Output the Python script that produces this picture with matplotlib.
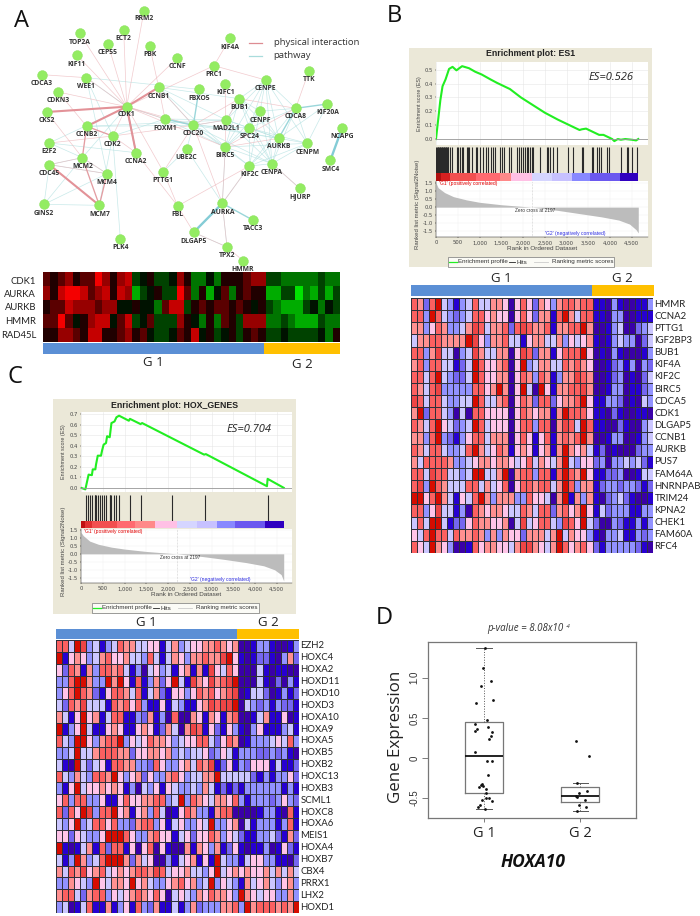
import numpy as np
import matplotlib
matplotlib.use("Agg")
import matplotlib.pyplot as plt
from matplotlib.colors import ListedColormap, LinearSegmentedColormap
from matplotlib.patches import Rectangle

W, H = 700, 916
SANS = "Lato"

# ---------- Panel A: network ----------
node_names = ["RRM2","TOP2A","ECT2","CEP55","PBK","KIF11","CCNF","KIF4A","PRC1","TTK","CDCA3","WEE1","KIFC1","CENPE",
              "CCNB1","FBXO5","CDKN3","BUB1","KIF20A","CDCA8","CDK1","CKS2","CENPF","NCAPG","FOXM1","MAD2L1","SPC24",
              "CDC20","CCNB2","CDK2","AURKB","CENPM","E2F2","UBE2C","BIRC5","CCNA2","MCM2","SMC4","CDC45","CENPA",
              "KIF2C","MCM4","PTTG1","HJURP","GINS2","MCM7","FBL","AURKA","TACC3","DLGAP5","PLK4","TPX2","HMMR"]
node_x = [432,239,371,324,449,230,532,690,642,927,126,259,676,797,476,597,175,718,982,887,380,140,780,1026,495,679,748,
          580,260,338,836,922,148,560,676,408,247,991,148,816,748,321,490,899,132,298,533,667,758,581,361,681,729]
node_y = [32,100,89,132,138,165,174,115,197,212,224,233,251,240,262,268,276,296,312,325,320,336,334,385,357,360,384,
          376,379,408,415,430,429,447,441,458,473,481,494,491,498,521,515,565,613,616,618,610,660,697,717,741,782]
label_dy = [25,26,26,27,27,27,26,27,27,27,26,26,26,26,26,26,27,26,26,26,23,27,27,26,27,24,26,
            25,25,26,25,26,26,26,26,26,25,26,26,26,26,25,25,26,26,26,26,26,26,27,26,26,26]

phys_thick = [("CDK1","CKS2"),("CDK1","CCNB1"),("CDK1","CCNB2"),("CDK1","CCNA2"),("CDC45","MCM7")]
phys_mid = [("CCNB2","CDK2"),("MCM2","MCM7"),("MCM4","MCM7"),("CCNB2","MCM2")]
phys_thin = [("CDK1","TOP2A"),("CDK1","ECT2"),("CDK1","RRM2"),("CDK1","CEP55"),("CDK1","KIF11"),("CDK1","CCNF"),("CDK1","WEE1"),
             ("CDK1","CDKN3"),("CDK1","CDK2"),("CDK1","PTTG1"),("CDK1","FOXM1"),("CDK1","PRC1"),("CDK1","CDC20"),("CDK1","BIRC5"),
             ("CDCA3","WEE1"),("PBK","CCNB1"),("KIF4A","PRC1"),("PRC1","CENPE"),("TTK","CDCA8"),("CENPA","HJURP"),("CDKN3","CCNB2"),
             ("CKS2","MCM2"),("CCNA2","FBL"),("PTTG1","FBL"),("FBL","DLGAP5"),("FBL","KIF2C"),("CDC20","AURKA"),("BIRC5","AURKA"),
             ("AURKA","TPX2"),("DLGAP5","TPX2"),("TPX2","HMMR"),("KIF2C","AURKA"),("CDC45","MCM2"),("CDC45","MCM4"),("MCM2","MCM4"),
             ("CCNB1","CDC20"),("CCNB1","FOXM1"),("CDC20","BUB1"),("CDC20","MAD2L1"),("MAD2L1","BUB1"),("KIFC1","BIRC5"),("CDC20","PTTG1"),
             ("CDK2","CCNA2"),("CDK2","E2F2"),("CDC20","CDK2"),("BIRC5","AURKB"),("BUB1","CDCA8"),("BIRC5","CDCA8")]
path_thick = [("DLGAP5","AURKA"),("NCAPG","SMC4")]
path_mid = [("CDK1","CCNA2"),("AURKA","TACC3"),("FBXO5","CDC20"),("CDCA8","KIF20A"),("CDC20","FOXM1"),("CDCA8","AURKB")]
path_thin = [("WEE1","CDK1"),("WEE1","FBXO5"),("WEE1","CDK2"),("WEE1","MCM4"),("CDK1","FOXM1"),("CDK1","MCM2"),("CDK1","E2F2"),("CCNB1","MAD2L1"),
             ("CCNB1","BUB1"),("CCNB1","BIRC5"),("CCNB1","CDC20"),("CCNB2","CDC20"),("CCNB2","MAD2L1"),("CDK2","FOXM1"),("CDK2","MCM7"),("CDK2","PLK4"),
             ("E2F2","CCNA2"),("E2F2","MCM2"),("CDC45","GINS2"),("CDC45","MCM4"),("CDC45","MCM2"),("GINS2","MCM7"),("GINS2","MCM4"),("GINS2","MCM2"),
             ("CDC45","MCM7"),("MCM4","MCM2"),("UBE2C","CDC20"),("UBE2C","AURKA"),("UBE2C","PTTG1"),("BIRC5","KIF2C"),("BIRC5","CENPA"),("BIRC5","CENPE"),
             ("BIRC5","CENPF"),("BIRC5","CENPM"),("BIRC5","BUB1"),("BIRC5","SPC24"),("BIRC5","AURKA"),("CENPE","BUB1"),("CENPE","CENPF"),("CENPE","CDCA8"),
             ("CENPE","AURKB"),("CENPE","SPC24"),("CENPE","MAD2L1"),("CENPE","CENPM"),("CENPE","CENPA"),("BUB1","CENPF"),("BUB1","MAD2L1"),("BUB1","SPC24"),
             ("BUB1","AURKB"),("BUB1","CENPA"),("CENPF","CDCA8"),("CENPF","AURKB"),("CENPF","KIF2C"),("CENPF","CENPA"),("CENPF","SPC24"),("CDCA8","CENPM"),
             ("CDCA8","CENPA"),("CDCA8","KIF2C"),("CDCA8","SPC24"),("KIF20A","AURKB"),("KIF20A","CENPM"),("AURKB","CENPM"),("AURKB","CENPA"),("AURKB","KIF2C"),
             ("AURKB","SPC24"),("AURKB","MAD2L1"),("AURKB","CDC20"),("CENPM","CENPA"),("CENPM","KIF2C"),("CENPM","SPC24"),("CENPA","KIF2C"),("CENPA","SPC24"),
             ("CENPA","MAD2L1"),("CENPA","CDC20"),("CENPA","HJURP"),("KIF2C","SPC24"),("KIF2C","CDC20"),("SPC24","CDC20"),("SPC24","MAD2L1"),("MAD2L1","CDC20"),
             ("FOXM1","BIRC5"),("FOXM1","AURKB"),("FOXM1","CDC20"),("FOXM1","MAD2L1"),("CDC20","BIRC5"),("AURKA","TPX2"),("DLGAP5","TPX2"),("AURKA","KIF2C")]
legend_a = ["physical interaction", "pathway"]

# ---------- Panel A: heat map ----------
a_genes = ["CDK1","AURKA","AURKB","HMMR","RAD45L"]
a_rows = ["656756697578"+"345334752242555677"+"3322222322",
          "758998678587"+"134533962514625655"+"1133021313",
          "566877767744"+"544268835656656545"+"3211134243",
          "669645788468"+"346333754252653777"+"2232111322",
          "557765885567"+"564334658453453565"+"3343333425"]

# ---------- Panel B: GSEA ES1 ----------
b_title = "Enrichment plot: ES1"
b_es_rank = [0,50,100,150,220,300,380,470,600,760,900,1050,1250,1400,1700,1950,2200,2500,2800,3100,3300,3350,3450,3750,3850,4050,4100,4180,4250,4350,4500,4600,4650]
b_es_val = [0,.14,.28,.38,.43,.505,.52,.495,.525,.51,.485,.465,.43,.405,.36,.30,.25,.19,.14,.095,.065,.07,.075,.03,.03,0,-.015,0,-.005,0,-.005,-.01,0]
b_hits = [10,25,40,55,70,85,100,115,130,145,160,175,190,205,220,235,250,265,280,322,360,491,514,552,590,629,705,744,767,820,920,951,1012,1074,1150,1204,1258,
          1319,1357,1472,1511,1564,1687,1718,1871,1917,1948,1994,2048,2086,2124,2163,2201,2239,2393,2546,2584,2623,2699,2776,3044,3160,3351,3390,3581,3620,
          3696,3758,3788,3926,3988,4256,4387,4425,4502,4632]
b_bar_edges = [0,115,320,930,1470,1715,2200,2660,3120,3540,3770,4230,4650]
b_bar_colors = ["#b01010","#d62020","#f25050","#ff6a70","#ff8989","#ffc0e5","#d5d5ff","#c7c1ff","#8888ff","#6b58ef","#6b58ef","#3000c0"]
b_rank_rank = [0,50,200,400,700,1000,1500,2197,2800,3300,3800,4200,4450,4600,4650]
b_rank_val = [1.5,1.2,.9,.65,.45,.3,.15,0,-.2,-.4,-.6,-.8,-1.05,-1.4,-1.6]
b_es_text = "ES=0.526"

b_genes = ["HMMR","CCNA2","PTTG1","IGF2BP3","BUB1","KIF4A","KIF2C","BIRC5","CDCA5","CDK1","DLGAP5","CCNB1","AURKB","PUS7","FAM64A","HNRNPAB","TRIM24","KPNA2","CHEK1","FAM60A","RFC4"]
b_rows = ["7627943134744665"+"0"+"5752653677677"+"1103100113",
          "7739743234775655"+"0"+"5752661796477"+"1103300111",
          "6635763346874667"+"2"+"7876671667796"+"0013400234",
          "4667766669853667"+"4"+"4156644635456"+"1013433024",
          "7736844034864466"+"0"+"5872661577795"+"0103100013",
          "6737744124975567"+"0"+"5934664476765"+"0012313032",
          "7747943224975566"+"0"+"5763761366876"+"0012301024",
          "7647833333775696"+"0"+"5940951667786"+"0013301123",
          "8747743344974467"+"0"+"5762772566795"+"1133201043",
          "6927743040775555"+"0"+"5765661697775"+"1102100110",
          "7647954234974555"+"0"+"5773770687497"+"1100210034",
          "6637932135774666"+"0"+"5751571676796"+"0013300134",
          "7647743347964576"+"1"+"5651561696564"+"1201000233",
          "6477776334566566"+"5"+"4574654694355"+"2303343421",
          "7748774434994469"+"0"+"6773771797695"+"1122300144",
          "7839764447746457"+"0"+"5776774697366"+"1233233212",
          "9957964154796366"+"6"+"3375540691636"+"1023421001",
          "7735844130765665"+"4"+"4764772675695"+"1423331133",
          "4749941225766556"+"0"+"4845774387594"+"2003211313",
          "5479774766763636"+"5"+"5266646946553"+"1033411323",
          "7549653001756655"+"4"+"6886546975675"+"2133333210"]

# ---------- Panel C: GSEA HOX ----------
c_title = "Enrichment plot: HOX_GENES"
c_es_rank = [0,100,140,175,250,270,330,345,385,460,485,520,575,600,660,700,770,815,875,1100,1125,1370,1405,2830,2870,4275,4290,4660]
c_es_val = [0,-.015,.06,.125,.12,.175,.175,.22,.305,.305,.355,.41,.425,.49,.48,.615,.63,.67,.685,.637,.655,.605,.615,.315,.32,.015,.085,0]
c_hits = [108,160,215,250,315,330,355,385,430,485,525,575,660,675,700,770,815,875,1115,1385,2085,2855,4290]
c_bar_edges = [0,100,255,830,1250,1710,2200,2660,3120,3540,4230,4660]
c_bar_colors = ["#c01010","#e03030","#f25050","#ff6a70","#ff8989","#ffc0e5","#d5d5ff","#c7c1ff","#8888ff","#6b58ef","#3000c0"]
c_rank_rank = [0,50,200,400,700,1000,1500,2197,2800,3300,3800,4200,4450,4600,4660]
c_rank_val = [1.35,1.15,.8,.6,.42,.3,.15,0,-.17,-.35,-.55,-.75,-1.0,-1.3,-1.7]
c_es_text = "ES=0.704"

c_genes = ["EZH2","HOXC4","HOXA2","HOXD11","HOXD10","HOXD3","HOXA10","HOXA9","HOXA5","HOXB5","HOXB2","HOXC13","HOXB3","SCML1","HOXC8","HOXA6","MEIS1","HOXA4","HOXB7","CBX4","PRRX1","LHX2","HOXD1"]
c_rows = ["7749834134"+"7664455146"+"3455667656"+"0013310013",
          "9156534675"+"5644374146"+"5366766895"+"1012210362",
          "5276163776"+"7413045341"+"5616185475"+"0004101100",
          "3379963396"+"9517136259"+"4186586789"+"0004102031",
          "3579762157"+"7647146215"+"5357675678"+"0144201312",
          "4276844417"+"6757311514"+"3115687889"+"0432313221",
          "6415956147"+"7113261307"+"0065165167"+"0014611501",
          "9135941156"+"5115651264"+"0687152153"+"1035111341",
          "7439953677"+"9354576653"+"4557742576"+"0133345473",
          "3349446777"+"6625566563"+"4344523541"+"3332232310",
          "4109424517"+"7663327533"+"5647681251"+"3255514112",
          "7436437769"+"5356253367"+"5344669444"+"4421313352",
          "3159455656"+"5130435154"+"3343641212"+"1333333131",
          "5737733511"+"5755667734"+"9376546657"+"3133323532",
          "7275983779"+"5615637401"+"5763316770"+"0001331071",
          "4359347757"+"3326773514"+"5335493356"+"0413331371",
          "5525433599"+"9753367551"+"4525576354"+"2113342162",
          "9101461727"+"7150570510"+"0616536125"+"1011301521",
          "4139634799"+"9626450031"+"4561519433"+"1455331102",
          "6476856745"+"6567768745"+"5644359456"+"5655646464",
          "3365439546"+"6595643356"+"7563493543"+"1645643563",
          "6774267735"+"4567657504"+"5436576653"+"9654553363",
          "3401471161"+"3517326114"+"1362333667"+"3967776769"]

# ---------- Panel D: box plot ----------
d_groups = ["G 1","G 2"]
d_stats = [dict(med=.02, q1=-.43, q3=.45, whislo=-.63, whishi=1.37, fliers=[]),
           dict(med=-.47, q1=-.545, q3=-.36, whislo=-.665, whishi=-.31, fliers=[])]
d_g1_x = [1.01,.99,1.07,.97,1.09,.92,1.03,.91,1.04,.93,.91,1.08,1.07,1.055,.91,1.03,1.08,1.04,.98,.97,.945,.99,1.025,1.02,.975,1.015,1.05,1.085,.96,.94,1.005]
d_g1_y = [1.365,1.116,.963,.892,.718,.68,.477,.427,.386,.357,.332,.328,.27,.237,.07,-.033,-.033,-.216,-.32,-.34,-.36,-.349,-.386,-.432,-.519,-.502,-.502,-.531,-.589,-.606,-.631]
d_g2_x = [1.96,2.09,1.965,2.07,1.99,1.965,1.96,2.045,1.985,2.06,1.97]
d_g2_y = [.216,.02,-.307,-.407,-.436,-.481,-.469,-.519,-.581,-.61,-.664]

GSEA_COLORS = ["#3a00a8","#2700d1","#7566f0","#9292ff","#cbc6ff","#ffc4e8","#ff9090","#fb6060","#ee4545","#d60c00"]
BLUE, ORANGE = "#5b8fd5", "#ffc000"
BEIGE = "#ebe8d8"

fig = plt.figure(figsize=(W/100, H/100), dpi=100)


def px_axes(x0, y0, x1, y1, **kw):
    return fig.add_axes([x0/W, 1-y1/H, (x1-x0)/W, (y1-y0)/H], **kw)


ov = fig.add_axes([0, 0, 1, 1], zorder=20)
ov.set_xlim(0, W); ov.set_ylim(H, 0); ov.axis("off"); ov.patch.set_alpha(0)


def txt(x, y, s, size=8, ha="center", va="center", **kw):
    kw.setdefault("family", SANS)
    return ov.text(x, y, s, fontsize=size, ha=ha, va=va, **kw)


# Panel letters
for s, x, y in [("A", 22, 21), ("B", 394, 16), ("C", 15, 377), ("D", 384, 618)]:
    txt(x, y, s, size=17, family="Open Sans", color="#111")

# ---------- A network ----------
net = px_axes(0, 0, 390, 270, zorder=2)
net.set_xlim(0, 1170); net.set_ylim(810, 0); net.axis("off")
pos = {n: (x, y) for n, x, y in zip(node_names, node_x, node_y)}
PINK, TEAL = "#ecb4b9", "#b5e2e2"
for edges, col, lw, a in [(path_thin, TEAL, .5, .75), (phys_thin, PINK, .5, .7), (path_mid, "#9ad6da", 1.0, 1),
                          (phys_mid, "#e39da2", .95, 1), (phys_thick, "#e39298", 1.5, 1), (path_thick, "#84ccd6", 1.7, 1)]:
    for u, v in edges:
        net.plot([pos[u][0], pos[v][0]], [pos[u][1], pos[v][1]], color=col, lw=lw, alpha=a, zorder=1, solid_capstyle="round")
net.scatter(node_x, node_y, s=50, color="#93ec62", edgecolors="#8adf5c", linewidths=.3, zorder=3)
for n, x, y, d in zip(node_names, node_x, node_y, label_dy):
    net.text(x, y+d, n, fontsize=4.9, fontweight="bold", family="Open Sans", color="#333", ha="center", va="center", zorder=4, clip_on=False)
ov.plot([249, 262], [43.3, 43.3], color="#dd8c92", lw=.9)
ov.plot([249, 262], [56, 56], color="#a9dcdc", lw=.9)
txt(274.5, 42.5, legend_a[0], size=6.8, ha="left", family="Open Sans", color="#333")
txt(273, 56, legend_a[1], size=6.8, ha="left", family="Open Sans", color="#333")

# ---------- A heat map ----------
axa = px_axes(43, 272, 340, 342)
rg = LinearSegmentedColormap.from_list("gkr", [(0, "#00e400"), (2/9, "#007400"), (4/9, "#001200"), (4.5/9, "#000000"),
                                               (5/9, "#200000"), (7/9, "#960000"), (1, "#f40000")])
A = np.array([[int(c) for c in r] for r in a_rows])
axa.imshow(A, cmap=rg, vmin=0, vmax=9, aspect="auto", interpolation="nearest")
axa.axis("off")
for g, y in zip(a_genes, [281, 294.5, 308, 322, 335]):
    txt(36, y, g, size=6.8, ha="right", color="#222")


def group_bar(x0, xm, x1, y0, y1):
    ov.add_patch(Rectangle((x0, y0), xm-x0, y1-y0, color=BLUE, lw=0))
    ov.add_patch(Rectangle((xm, y0), x1-xm, y1-y0, color=ORANGE, lw=0))


group_bar(43, 264, 340, 343, 354)
txt(153, 363, "G 1", size=9.5, family="Open Sans", color="#222")
txt(302, 365, "G 2", size=9.5, family="Open Sans", color="#222")


# ---------- GSEA ----------
def gsea(box, top, hit, bar, low, title, es_r, es_v, es_t, es_lim, es_ticks, hits, edges, colors, rr, rv, rlim, leg, es_xy,
         title_size, label_x):
    ov_r = Rectangle((box[0], box[1]), box[2]-box[0], box[3]-box[1], color=BEIGE, lw=0, zorder=0)
    fig.add_artist(ov_r)
    ov_r.set_transform(ov.transData)
    x_max = (top[2]-top[0]) / 0.0435
    a1 = px_axes(top[0], top[1], top[2], top[3], zorder=3)
    a1.plot(es_r, es_v, color="#22ee22", lw=1.5)
    a1.axhline(0, color="#999", lw=.6)
    a1.set_xlim(0, x_max); a1.set_ylim(*es_lim)
    a1.set_yticks(es_ticks); a1.set_xticks(np.arange(0, 5000, 500)); a1.tick_params(labelbottom=False, length=0)
    a1.tick_params(axis="y", labelsize=3.8, labelcolor="#444", length=1, width=.3, pad=1.5)
    a1.set_yticklabels([f"{t:.1f}" for t in es_ticks])
    a1.grid(color="#e6e6e6", lw=.4)
    for s in a1.spines.values():
        s.set_visible(False)
    a2 = px_axes(top[0], hit[0], top[2], hit[1], zorder=3)
    a2.vlines(hits, 0, 1, color="#2a2a2a", lw=.8)
    a2.set_xlim(0, x_max); a2.set_ylim(0, 1); a2.axis("off")
    a3 = px_axes(top[0], bar[0], top[2], bar[1], zorder=3)
    a3.broken_barh([(edges[i], edges[i+1]-edges[i]) for i in range(len(colors))], (0, 1), facecolors=colors)
    a3.set_xlim(0, x_max); a3.set_ylim(0, 1); a3.axis("off")
    a4 = px_axes(top[0], low[0], top[2], low[1], zorder=3)
    a4.fill_between(rr, rv, 0, color="#bcbcbc", lw=0)
    a4.axvline(2197, color="#aaa", lw=.4, ls=":")
    a4.set_xlim(0, x_max); a4.set_ylim(*rlim)
    a4.set_yticks([1.5, 1, .5, 0, -.5, -1, -1.5]); a4.set_yticklabels(["1.5", "1.0", "0.5", "0.0", "-0.5", "-1.0", "-1.5"])
    a4.set_xticks(np.arange(0, 5000, 500)); a4.set_xticklabels([f"{t:,}" for t in range(0, 5000, 500)])
    a4.tick_params(labelsize=3.8, labelcolor="#444", length=1, width=.3, pad=1.5)
    a4.grid(color="#eeeeee", lw=.3)
    a4.set_axisbelow(True)
    for s in ("top", "right"):
        a4.spines[s].set_visible(False)
    for s in ("left", "bottom"):
        a4.spines[s].set_linewidth(.3)
    txt((box[0]+box[2])/2, box[1]+6, title, size=title_size, fontweight="bold", family="Liberation Sans", color="#222")
    txt(es_xy[0], es_xy[1], es_t, size=8, style="italic", family="Open Sans", color="#222")
    txt(label_x, (top[1]+top[3])/2, "Enrichment score (ES)", size=3.9, rotation=90, family="Liberation Sans", color="#444")
    txt(label_x-1, (hit[0]+low[1])/2+12, "Ranked list metric (Signal2Noise)", size=4.3, rotation=90, family="Liberation Sans", color="#444")
    txt(top[0]+(top[2]-top[0])*.5, low[1]+12, "Rank in Ordered Dataset", size=4.6, family="Liberation Sans", color="#444")
    txt(top[0]+3, low[0]+2.5, "'G1' (positively correlated)", size=3.6, ha="left", family="Liberation Sans", color="#e00000")
    txt(top[0]+99, (low[0]+low[1])/2+1.5, "Zero cross at 2197", size=3.4, family="Liberation Sans", color="#333")
    txt(top[0]+139, low[1]-4, "'G2' (negatively correlated)", size=3.6, family="Liberation Sans", color="#2a2ae0")
    ov.add_patch(Rectangle((leg[0], leg[1]), leg[2]-leg[0], leg[3]-leg[1], fc="#fbfbf6", ec="#777", lw=.5))
    ym = (leg[1]+leg[3])/2
    ov.plot([leg[0]+1, leg[0]+9], [ym, ym], color="#22ee22", lw=.9)
    txt(leg[0]+10, ym, "Enrichment profile", size=4.5, ha="left", family="Liberation Sans", color="#333")
    ov.plot([leg[0]+61, leg[0]+67], [ym, ym], color="#222", lw=.6)
    txt(leg[0]+69, ym, "Hits", size=4.5, ha="left", family="Liberation Sans", color="#333")
    ov.plot([leg[0]+86, leg[0]+100], [ym, ym], color="#ccc", lw=.6)
    txt(leg[0]+104, ym, "Ranking metric scores", size=4.5, ha="left", family="Liberation Sans", color="#333")


gsea((409, 48, 652, 267), (436, 62, 648, 145), (147, 173), (173, 180.5), (181, 237), b_title, b_es_rank, b_es_val, b_es_text,
     (-.043, .555), [0, .1, .2, .3, .4, .5], b_hits, b_bar_edges, b_bar_colors, b_rank_rank, b_rank_val, (-1.85, 1.62),
     (447.5, 257, 613.5, 267), (611, 77), 6.3, 419)
gsea((53, 399, 296, 614), (81, 412, 292, 492), (495, 521), (521, 528), (529, 583), c_title, c_es_rank, c_es_val, c_es_text,
     (-.04, .72), [0, .1, .2, .3, .4, .5, .6, .7], c_hits, c_bar_edges, c_bar_colors, c_rank_rank, c_rank_val, (-1.83, 1.56),
     (91.5, 603, 258.5, 613), (249, 429), 6.3, 64)


# ---------- heat maps ----------
def heat(x0, y0, x1, y1, rows, genes, lab_x, size):
    ax = px_axes(x0, y0, x1, y1, zorder=4)
    M = np.array([[int(c) for c in r] for r in rows])
    ax.pcolormesh(M[::-1], cmap=ListedColormap(GSEA_COLORS), vmin=-.5, vmax=9.5, edgecolors="#30303a", linewidth=.4)
    ax.axis("off")
    h = (y1-y0)/len(genes)
    for i, g in enumerate(genes):
        txt(lab_x, y0+h*(i+.5), g, size=size, ha="left", color="#222")


group_bar(411, 592, 654, 285, 296)
txt(501, 278, "G 1", size=9.5, family="Open Sans", color="#222")
txt(622, 278, "G 2", size=9.5, family="Open Sans", color="#222")
heat(411, 298, 653, 553, b_rows, b_genes, 654.5, 6.9)

group_bar(56, 237, 299, 629, 639)
txt(146, 622, "G 1", size=9.5, family="Open Sans", color="#222")
txt(268, 622, "G 2", size=9.5, family="Open Sans", color="#222")
heat(56, 640, 299, 913, c_rows, c_genes, 300.5, 6.9)

# ---------- D ----------
axd = px_axes(428, 642, 636, 818, zorder=3)
axd.bxp(d_stats, positions=[1, 2], widths=.4, showfliers=False, capwidths=.16,
        boxprops=dict(color="#777", lw=.9), medianprops=dict(color="#111", lw=1.3),
        whiskerprops=dict(color="#555", lw=.7, ls=":"), capprops=dict(color="#555", lw=.7))
axd.scatter(d_g1_x, d_g1_y, s=4, color="#111", zorder=4, lw=0)
axd.scatter(d_g2_x, d_g2_y, s=4, color="#111", zorder=4, lw=0)
axd.set_xlim(.417, 2.58); axd.set_ylim(-.747, 1.444)
axd.set_xticks([1, 2]); axd.set_xticklabels(d_groups, fontsize=10.5, family="Open Sans", color="#222")
axd.set_yticks([-.5, 0, .5, 1]); axd.set_yticklabels(["-0.5", "0", "0.5", "1.0"], rotation=90, va="center", fontsize=7, family="Liberation Sans", color="#333")
axd.tick_params(axis="x", length=3, width=.6, color="#666", pad=3)
axd.tick_params(axis="y", length=4, width=.6, color="#666", pad=2)
for s in axd.spines.values():
    s.set_color("#777"); s.set_linewidth(.9)
txt(396, 737, "Gene Expression", size=12.2, rotation=90, family="Open Sans", color="#222")
txt(533, 862, "HOXA10", size=12.5, fontweight="bold", style="italic", family="Open Sans", color="#111")
txt(525, 629, "p-value = 8.08x10", size=7, style="italic", family="Open Sans", color="#333")
txt(568, 626.5, "-4", size=4, style="italic", family="Open Sans", color="#333")

fig.savefig("out.png", dpi=100)
